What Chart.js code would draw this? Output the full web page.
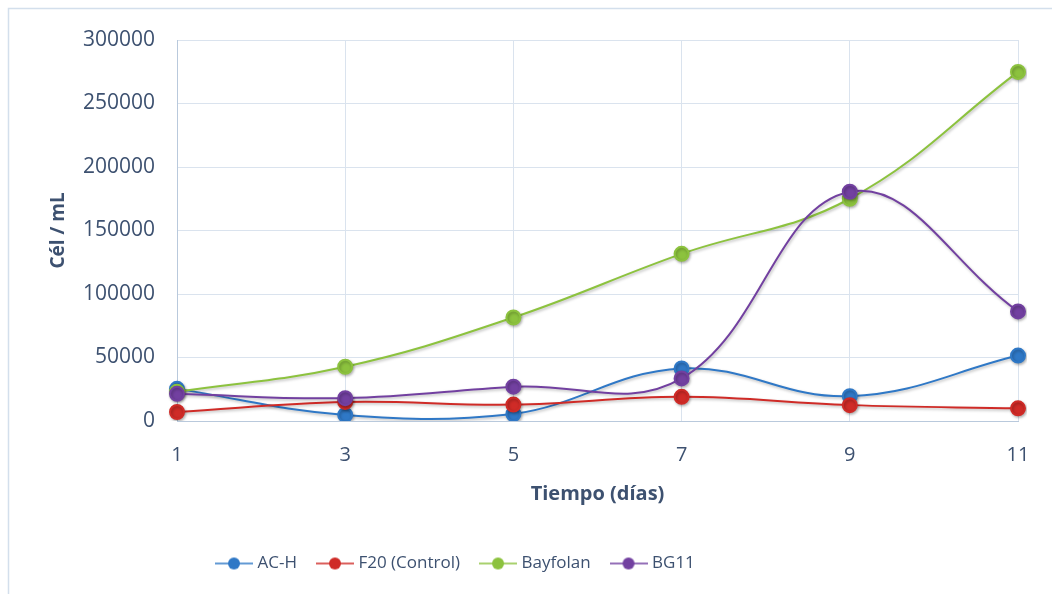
<!DOCTYPE html>
<html>
<head>
<meta charset="utf-8">
<script src="https://cdn.jsdelivr.net/npm/chart.js@4.4.1/dist/chart.umd.min.js"></script>
<style>
  html, body { margin: 0; padding: 0; background: #ffffff; }
  #wrap { width: 1052px; height: 594px; position: relative; }
</style>
</head>
<body>
<div id="wrap"><canvas id="c" width="1052" height="594"></canvas></div>
<script>
// Days of sampling
const days = ['1', '3', '5', '7', '9', '11'];

// Cell density (cells / mL) per culture medium
const acH      = [25300, 4800, 5500, 41400, 19500, 51500];
const f20      = [7100, 15000, 12900, 19000, 12500, 10000];
const bayfolan = [23000, 42700, 81500, 131600, 175000, 274900];
const bg11     = [21400, 18000, 27000, 33500, 180500, 86300];

const seriesNames  = ['AC-H', 'F20 (Control)', 'Bayfolan', 'BG11'];
const seriesColors = ['#2f78c6', '#cf2b27', '#8cc23e', '#7240a0'];

const textColor = '#3d5170';
const fontFamily = '"Open Sans", "DejaVu Sans", sans-serif';

// Legend symbol: short line with a dot in the middle
function legendSymbol(color) {
  const cv = document.createElement('canvas');
  cv.width = 38; cv.height = 14;
  const g = cv.getContext('2d');
  g.strokeStyle = color;
  g.lineWidth = 1.6;
  g.beginPath(); g.moveTo(0, 7); g.lineTo(38, 7); g.stroke();
  g.fillStyle = color;
  g.beginPath(); g.arc(19, 7, 6, 0, Math.PI * 2); g.fill();
  return cv;
}
const symbols = seriesColors.map(legendSymbol);

// Thin frame around the whole chart
const framePlugin = {
  id: 'frame',
  beforeDraw(chart) {
    const ctx = chart.ctx;
    ctx.save();
    ctx.strokeStyle = '#d3dfec';
    ctx.lineWidth = 1.5;
    ctx.strokeRect(8.5, 8.5, 1200, 700);
    ctx.restore();
  }
};

// Legend row sits left of centre, starting under the first category
const legendShift = {
  id: 'legendShift',
  afterLayout(chart) {
    const lg = chart.legend;
    if (lg) { lg.left = 196; }
  }
};

// Soft shadow under lines and markers
const shadowPlugin = {
  id: 'softShadow',
  beforeDatasetDraw(chart) {
    const ctx = chart.ctx;
    ctx.save();
    ctx.shadowColor = 'rgba(0,0,0,0.28)';
    ctx.shadowBlur = 3;
    ctx.shadowOffsetX = 1;
    ctx.shadowOffsetY = 1.5;
  },
  afterDatasetDraw(chart) {
    chart.ctx.restore();
  }
};

const values = [acH, f20, bayfolan, bg11];
const datasets = values.map((v, i) => ({
  label: seriesNames[i],
  data: v,
  borderColor: seriesColors[i],
  backgroundColor: seriesColors[i],
  pointBackgroundColor: seriesColors[i],
  pointBorderColor: seriesColors[i],
  borderWidth: 2,
  pointRadius: 7,
  pointHoverRadius: 7,
  tension: 0.4,
  fill: false,
  order: 3 - i
}));

new Chart(document.getElementById('c'), {
  type: 'line',
  data: { labels: days, datasets },
  options: {
    responsive: false,
    animation: false,
    devicePixelRatio: 1,
    layout: { padding: { left: 47, right: 34, top: 40, bottom: 12 } },
    plugins: {
      tooltip: { enabled: false },
      legend: {
        position: 'bottom',
        align: 'start',
        labels: {
          usePointStyle: true,
          pointStyleWidth: 30,
          boxHeight: 14,
          padding: 23,
          color: textColor,
          font: { family: fontFamily, size: 17 },
          sort: (a, b) => a.datasetIndex - b.datasetIndex,
          generateLabels(chart) {
            const items = Chart.defaults.plugins.legend.labels.generateLabels(chart);
            items.forEach(it => { it.pointStyle = symbols[it.datasetIndex]; });
            return items;
          }
        }
      }
    },
    scales: {
      x: {
        type: 'category',
        offset: false,
        grid: { color: '#dae3ee', lineWidth: 1, drawTicks: false },
        border: { color: '#b9c9dc', width: 1 },
        ticks: { color: textColor, font: { family: fontFamily, size: 20 }, padding: 22 },
        title: {
          display: true,
          text: 'Tiempo (días)',
          color: textColor,
          font: { family: fontFamily, size: 20, weight: 'bold' },
          padding: { top: 8, bottom: 26 }
        },
        afterFit(s) { s.height = 111; }
      },
      y: {
        min: 0,
        max: 300000,
        ticks: {
          stepSize: 50000,
          color: textColor,
          font: { family: fontFamily, size: 21 },
          padding: 22,
          callback: v => String(v)
        },
        grid: { color: '#dae3ee', lineWidth: 1, drawTicks: false },
        border: { color: '#b9c9dc', width: 1 },
        title: {
          display: true,
          text: 'Cél / mL',
          color: textColor,
          font: { family: fontFamily, size: 19, weight: 'bold' },
          padding: { top: 0, bottom: 6 }
        },
        afterFit(s) { s.width = 130; }
      }
    }
  },
  plugins: [framePlugin, legendShift, shadowPlugin]
});
</script>
</body>
</html>
